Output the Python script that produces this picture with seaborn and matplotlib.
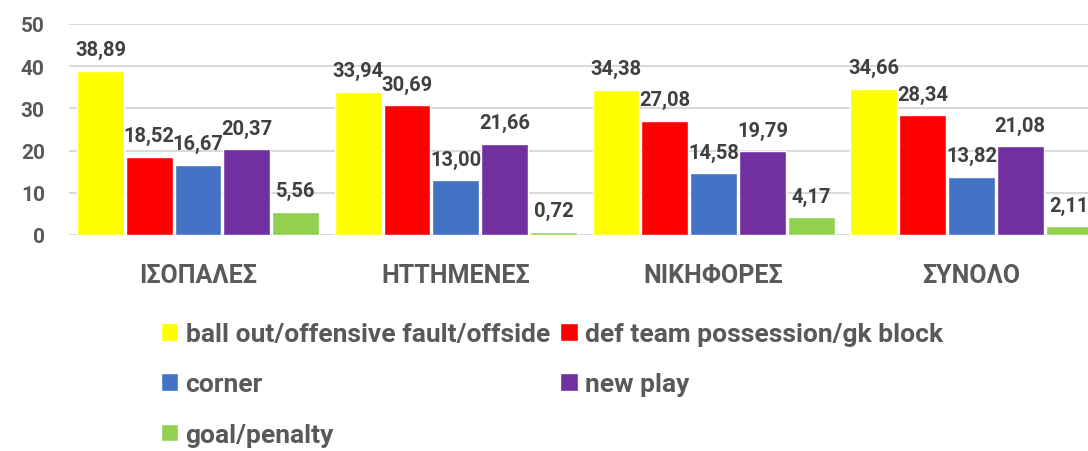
import matplotlib
matplotlib.use("Agg")
import matplotlib.pyplot as plt
import seaborn as sns
import pandas as pd

categories = ["ΙΣΟΠΑΛΕΣ", "ΗΤΤΗΜΕΝΕΣ", "ΝΙΚΗΦΟΡΕΣ", "ΣΥΝΟΛΟ"]
series = ["ball out/offensive fault/offside", "def team possession/gk block",
          "corner", "new play", "goal/penalty"]
ball_out = [38.89, 33.94, 34.38, 34.66]
def_team = [18.52, 30.69, 27.08, 28.34]
corner = [16.67, 13.00, 14.58, 13.82]
new_play = [20.37, 21.66, 19.79, 21.08]
goal_pen = [5.56, 0.72, 4.17, 2.11]
colors = ["#FFFF00", "#FF0000", "#4472C4", "#7030A0", "#92D050"]
yticks = [0, 10, 20, 30, 40, 50]

values = [ball_out, def_team, corner, new_play, goal_pen]
rows = []
for s, vals in zip(series, values):
    for c, v in zip(categories, vals):
        rows.append({"cat": c, "series": s, "value": v})
df = pd.DataFrame(rows)

sns.set_theme(style="white")
FONT = ["Roboto", "DejaVu Sans"]
plt.rcParams["font.family"] = FONT
plt.rcParams["font.weight"] = "bold"

fig = plt.figure(figsize=(10.88, 4.52), dpi=100)
ax = fig.add_axes([69.1 / 1088, (452 - 236) / 452, 1031.2 / 1088, 211 / 452])

sns.barplot(data=df, x="cat", y="value", hue="series", order=categories,
            hue_order=series, palette=colors, width=0.9465, gap=0.04,
            saturation=1, ax=ax, legend=True, errorbar=None)

ax.set_ylim(0, 50)
ax.set_xlim(-0.5, 3.5)
ax.set_yticks(yticks)
ax.set_yticklabels([str(t) for t in yticks])
ax.set_xlabel("")
ax.set_ylabel("")
for sp in ax.spines.values():
    sp.set_visible(False)
ax.grid(axis="y", color="#D9D9D9", linewidth=1.4)
ax.set_axisbelow(True)
ax.tick_params(axis="y", length=0, pad=17.5, labelsize=15, labelcolor="#595959")
ax.tick_params(axis="x", length=0, pad=20, labelsize=18, labelcolor="#595959")
for lab in ax.get_xticklabels() + ax.get_yticklabels():
    lab.set_fontweight("bold")

for cont in ax.containers:
    ax.bar_label(cont, fmt=lambda v: f"{v:.2f}".replace(".", ","), padding=8.3,
                 fontsize=14.5, fontweight="bold", color="#404040")

handles, labels = ax.get_legend_handles_labels()
ax.get_legend().remove()
order = [0, 2, 4, 1, 3]
leg = fig.legend([handles[i] for i in order], [labels[i] for i in order],
                 ncol=2, loc="upper left",
                 bbox_to_anchor=(161 / 1088, 1 - 323 / 452), frameon=False,
                 borderpad=0, borderaxespad=0, handlelength=0.66, handleheight=0.66,
                 handletextpad=0.27, columnspacing=0.4, labelspacing=1.0,
                 prop={"size": 19, "weight": "bold"})
for t in leg.get_texts():
    t.set_color("#595959")

fig.savefig("out.png", dpi=100)
